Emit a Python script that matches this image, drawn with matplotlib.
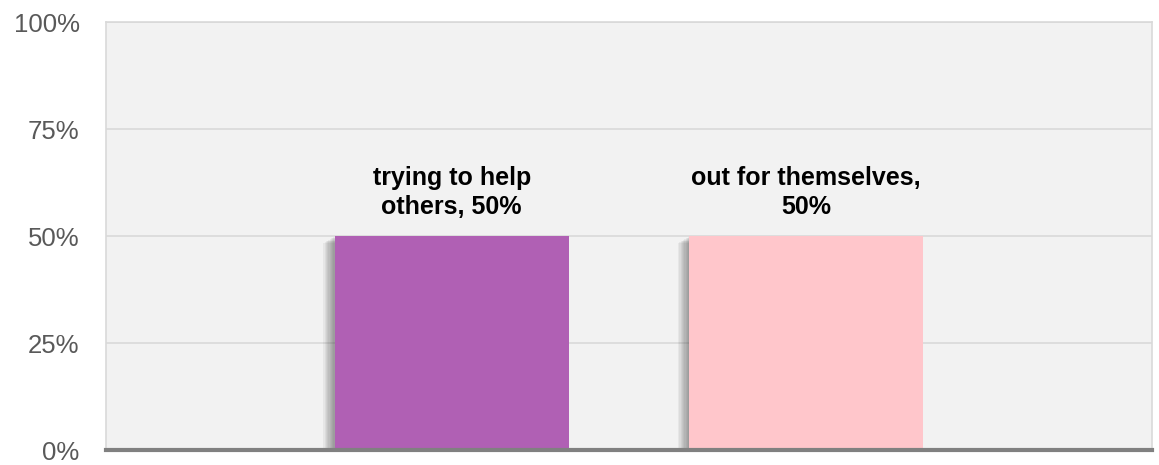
import matplotlib.pyplot as plt
from matplotlib import font_manager
from matplotlib.transforms import offset_copy

categories = ["trying to help\nothers, 50%", "out for themselves,\n50%"]
values = [50, 50]
bar_colors = ["#b060b4", "#ffc6cb"]
yticks = [0, 25, 50, 75, 100]
ytick_labels = ["0%", "25%", "50%", "75%", "100%"]

names = {f.name for f in font_manager.fontManager.ttflist}
narrow = "Liberation Sans Narrow" if "Liberation Sans Narrow" in names else "Liberation Sans"
plt.rcParams["font.family"] = [narrow, "DejaVu Sans"]

fig = plt.figure(figsize=(11.59, 4.65), dpi=100)
ax = fig.add_axes([106 / 1159, 1 - 450 / 465, 1046 / 1159, 428 / 465])
ax.set_facecolor("#f2f2f2")

x = list(range(len(values)))
width = 0.66

# soft drop shadow on the lower-left of each bar
for i in range(1, 10):
    shift = offset_copy(ax.transData, fig=fig, x=-i * 0.9, y=-i * 0.55, units="points")
    ax.bar(x, values, width=width, color="#303030", alpha=0.06, transform=shift, zorder=2)

ax.bar(x, values, width=width, color=bar_colors, zorder=3)

for xi, v, label in zip(x, values, categories):
    ax.annotate(label, (xi, v), xytext=(0, 12), textcoords="offset points",
                ha="center", va="bottom", fontsize=18, fontweight="bold",
                color="black", linespacing=1.3)

ax.set_xlim(-0.975, 1.975)
ax.set_ylim(0, 100)
ax.set_yticks(yticks)
ax.set_yticklabels(ytick_labels)
ax.set_xticks([])
ax.tick_params(axis="y", length=0, pad=19, labelsize=18.5, labelcolor="#595959")

ax.grid(axis="y", color="#d9d9d9", linewidth=1.2, zorder=1)
ax.set_axisbelow(True)
for side in ["left", "right", "top"]:
    ax.spines[side].set_color("#d9d9d9")
    ax.spines[side].set_linewidth(1.2)
ax.spines["bottom"].set_color("#808080")
ax.spines["bottom"].set_linewidth(3)
ax.spines["bottom"].set_zorder(5)

fig.savefig("out.png", dpi=100)
